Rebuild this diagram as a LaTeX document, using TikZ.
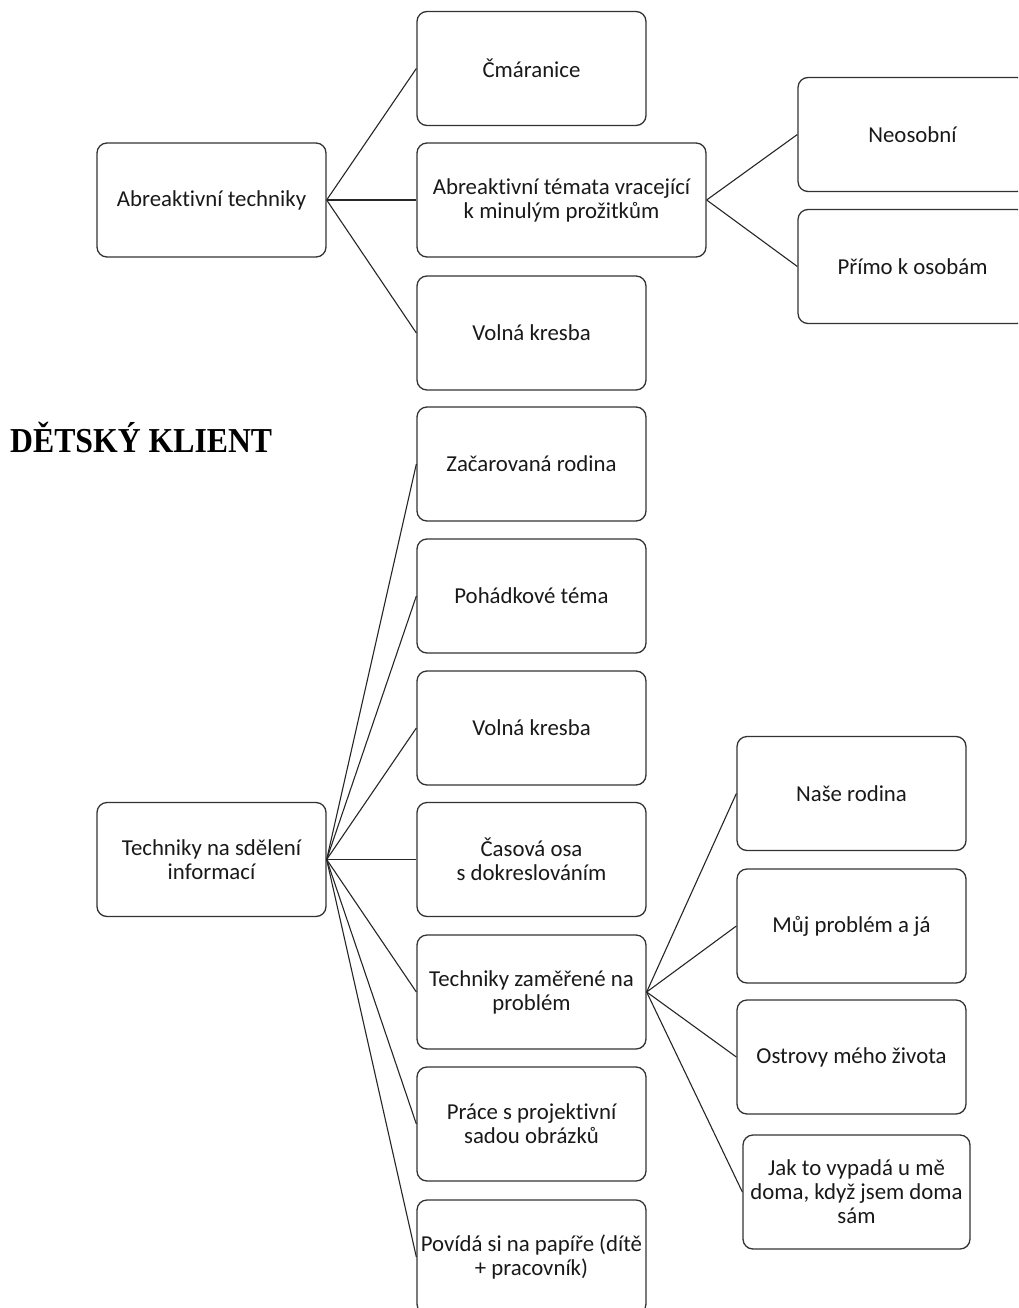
\documentclass[tikz,border=0pt]{standalone}
\usepackage{fontspec}
\setmainfont[Ligatures=NoCommon]{Carlito}
\newfontfamily\titlefont{Liberation Serif}
\begin{document}
\begin{tikzpicture}[x=1pt,y=-1pt,
  box/.style={draw=black!80, line width=1.3pt, rounded corners=10pt, fill=white,
    minimum width=229pt, minimum height=114pt, inner sep=2pt, align=center,
    text=black!90, font=\fontsize{22.8}{24}\selectfont},
  conn/.style={draw=black!85, line width=1.1pt}]
\useasboundingbox (0,0) rectangle (1018,1308);
\clip (0,0) rectangle (1018,1308);
% top part
\node[box] (abr) at (211.5,200) {Abreaktivní techniky};
\node[box] (cma) at (531.5,68.5) {Čmáranice};
\node[box, minimum width=289pt] (tem) at (561.5,200) {Abreaktivní témata vracející\\k minulým prožitkům};
\node[box] (vk1) at (531.5,333) {Volná kresba};
\node[box] (neo) at (912.5,134.5) {Neosobní};
\node[box] (pri) at (912.5,266.5) {Přímo k osobám};
\draw[conn] (abr.east) -- (cma.west);
\draw[conn] (abr.east) -- (tem.west);
\draw[conn] (abr.east) -- (vk1.west);
\draw[conn] (tem.east) -- (neo.west);
\draw[conn] (tem.east) -- (pri.west);
% title
\node[anchor=base west, inner sep=0pt, font=\titlefont\bfseries\fontsize{35}{37}\selectfont] (title) at (10,452) {\scalebox{0.907}[1]{DĚTSKÝ KLIENT}};
% bottom part
\node[box] (tns) at (211.5,859.5) {Techniky na sdělení\\informací};
\node[box] (zac) at (531.5,464) {Začarovaná rodina};
\node[box] (poh) at (531.5,596) {Pohádkové téma};
\node[box] (vk2) at (531.5,728) {Volná kresba};
\node[box] (cas) at (531.5,859.5) {Časová osa\\s dokreslováním};
\node[box] (tzp) at (531.5,992) {Techniky zaměřené na\\problém};
\node[box] (pra) at (531.5,1124) {Práce s projektivní\\sadou obrázků};
\node[box] (pov) at (531.5,1257) {Povídá si na papíře (dítě\\+ pracovník)};
\node[box] (nas) at (851.5,793.5) {Naše rodina};
\node[box] (muj) at (851.5,926) {Můj problém a já};
\node[box] (ost) at (851.5,1057) {Ostrovy mého života};
\node[box, minimum width=227pt] (jak) at (856.5,1192) {Jak to vypadá u mě\\doma, když jsem doma\\sám};
\foreach \t in {zac,poh,vk2,cas,tzp,pra,pov} \draw[conn] (tns.east) -- (\t.west);
\foreach \t in {nas,muj,ost,jak} \draw[conn] (tzp.east) -- (\t.west);
\end{tikzpicture}
\end{document}
